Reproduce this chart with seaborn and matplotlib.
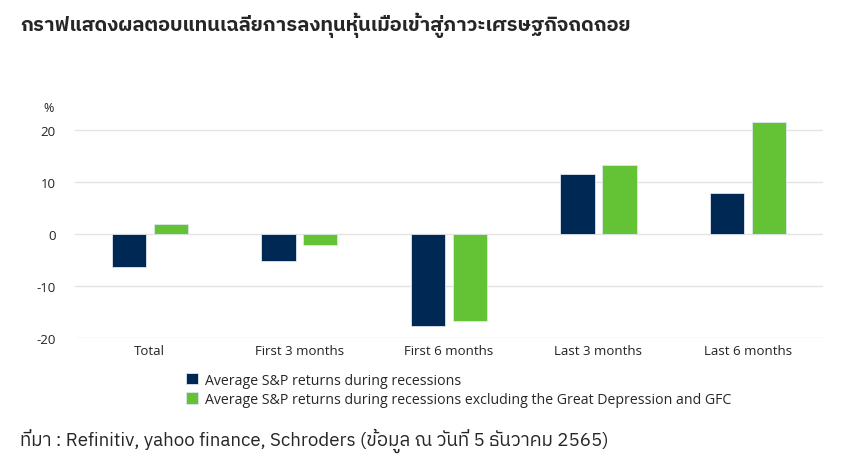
import pandas as pd
import matplotlib.pyplot as plt
import seaborn as sns
from matplotlib import font_manager

# Chart values
periods = ['Total', 'First 3 months', 'First 6 months', 'Last 3 months', 'Last 6 months']
all_recessions = [-6.3, -5.2, -17.7, 11.5, 7.9]
excl_gd_gfc = [1.9, -2.2, -16.7, 13.3, 21.4]
series_names = ['Average S&P returns during recessions',
                'Average S&P returns during recessions excluding the Great Depression and GFC']
y_ticks = [-20, -10, 0, 10, 20]

title_text = 'กราฟแสดงผลตอบแทนเฉลี่ยการลงทุนหุ้นเมื่อเข้าสู่ภาวะเศรษฐกิจถดถอย'
source_text = 'ที่มา : Refinitiv, yahoo finance, Schroders (ข้อมูล ณ วันที่ 5 ธันวาคม 2565)'

df = pd.DataFrame({
    'period': periods * 2,
    'value': all_recessions + excl_gd_gfc,
    'series': [series_names[0]] * 5 + [series_names[1]] * 5,
})

# find an installed family with Thai glyphs
names = sorted({f.name for f in font_manager.fontManager.ttflist})
thai = [n for n in names if 'Thai' in n or 'Garuda' in n or 'Loma' in n or 'Kinnari' in n]
print('thai', thai)

sns.set_style('white')
plt.rcParams['font.family'] = ['Open Sans', 'DejaVu Sans']

fig = plt.figure(figsize=(8.43, 4.6), dpi=100)
ax = fig.add_axes([0.089, 0.263, 0.887, 0.498])

sns.barplot(data=df, x='period', y='value', hue='series',
            palette=['#002855', '#64C334'], saturation=1, width=0.56, gap=0.18,
            edgecolor='#dfe6ee', linewidth=0.6, ax=ax, legend=True)

ax.set_ylim(-20, 24)
ax.set_xlim(-0.5, 4.5)
ax.set_yticks(y_ticks)
ax.set_yticklabels([str(t) for t in y_ticks], fontsize=9.5, color='#222222')
ax.tick_params(axis='x', labelsize=9.5, colors='#222222', length=0, pad=4)
ax.tick_params(axis='y', length=0, pad=14)
ax.yaxis.grid(True, color='#e3e3e3', linewidth=1)
ax.set_axisbelow(True)
for s in ax.spines.values():
    s.set_visible(False)
ax.set_xlabel('')
ax.set_ylabel('')

handles, labels = ax.get_legend_handles_labels()
ax.get_legend().remove()
fig.legend(handles, labels, loc='upper left', bbox_to_anchor=(0.214, 0.2),
           frameon=False, fontsize=10.2, handlelength=0.85, handleheight=0.85,
           handletextpad=0.5, labelspacing=0.3, borderaxespad=0)

fig.text(0.052, 0.757, '%', fontsize=9, color='#222222')

thai_fam = thai + ['DejaVu Sans']
fig.text(0.024, 0.933, title_text, fontsize=14.5, fontweight='bold', family=thai_fam)
fig.text(0.024, 0.03, source_text, fontsize=13.5, family=thai_fam)

fig.savefig('out.png', dpi=100)
